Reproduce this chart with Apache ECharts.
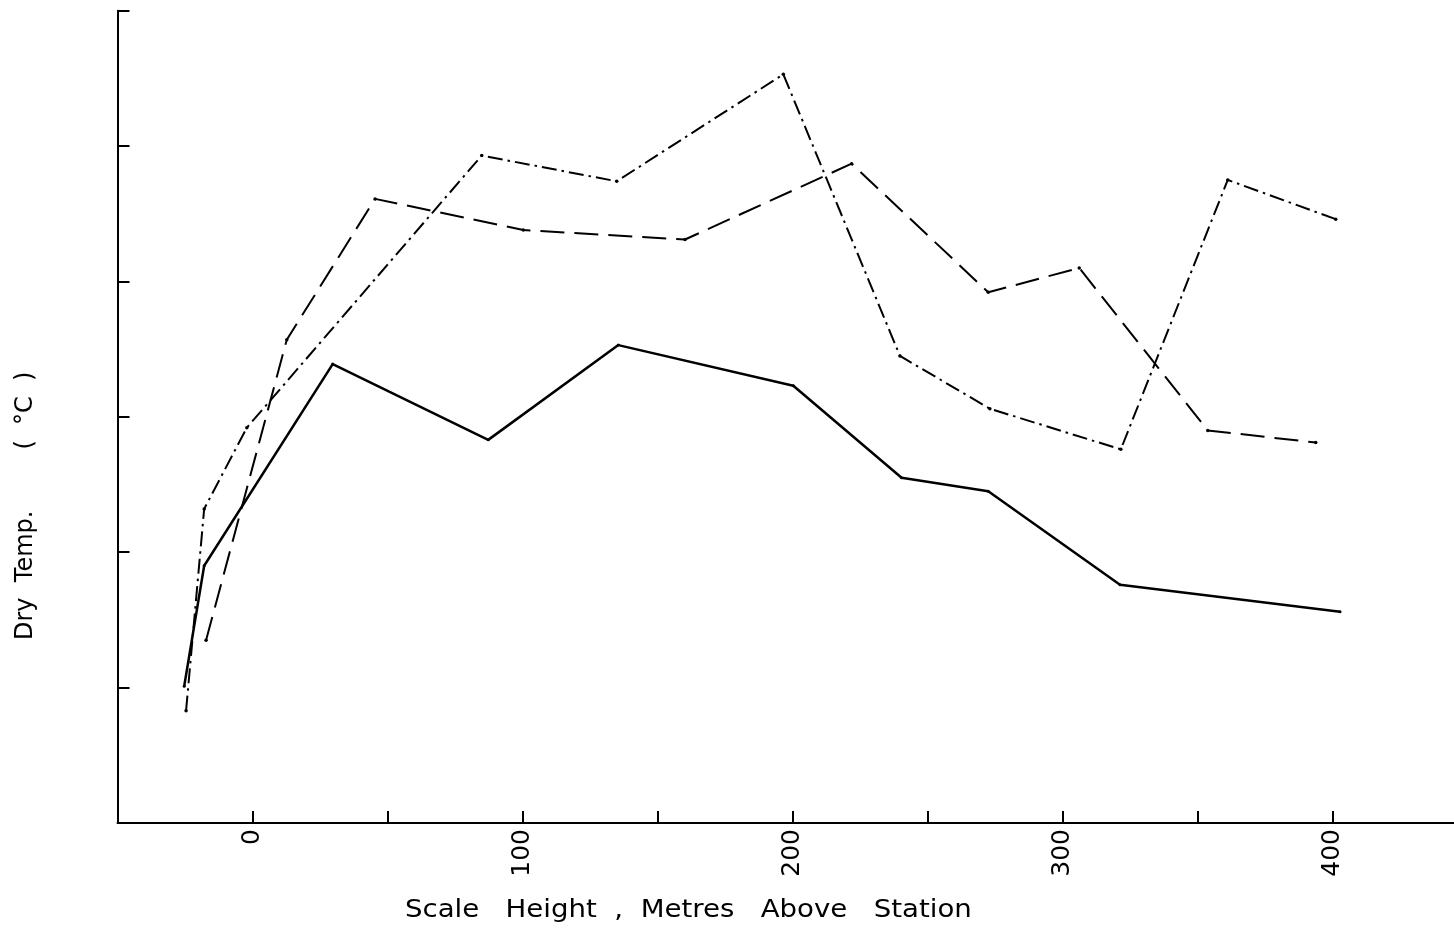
<!DOCTYPE html>
<html>
<head>
<meta charset="utf-8">
<script src="https://cdn.jsdelivr.net/npm/echarts@6/dist/echarts.min.js"></script>
<style>
html,body{margin:0;padding:0;background:#fff;}
#chart{width:1454px;height:931px;}
</style>
</head>
<body>
<div id="chart"></div>
<script>
// Scale height (m above station) and dry temperature (axis units, unlabelled)
const solidX = [-25.3, -17.9, 29.7, 87.3, 135.5, 200.3, 240.4, 272.5, 321.3, 402.8];
const solidY = [1.01, 1.90, 3.39, 2.83, 3.53, 3.23, 2.55, 2.45, 1.76, 1.56];

const dashedX = [-17.2, 12.7, 45.4, 100.3, 160.2, 221.9, 272.5, 306.2, 353.8, 393.8];
const dashedY = [1.35, 3.57, 4.61, 4.38, 4.31, 4.87, 3.92, 4.10, 2.90, 2.81];

const dashDotX = [-24.6, -17.9, -2.1, 84.9, 134.9, 196.6, 239.8, 273.1, 321.6, 361.2, 401.2];
const dashDotY = [0.83, 2.32, 2.92, 4.93, 4.74, 5.53, 3.45, 3.06, 2.76, 4.75, 4.46];

const xTickValues = [-50, 0, 50, 100, 150, 200, 250, 300, 350, 400];
const xTickLabels = [0, 100, 200, 300, 400];
const xTitle = 'Scale   Height  ,  Metres   Above   Station';
const yTitle = 'Dry  Temp.        (  °C  )';

function pairs(xs, ys) { return xs.map((x, i) => [x, ys[i]]); }

const FONT = 'DejaVu Sans';
const chart = echarts.init(document.getElementById('chart'), null, {renderer: 'canvas'});

const option = {
  backgroundColor: '#ffffff',
  animation: false,
  grid: {left: 117.5, top: 10.7, right: 0, height: 812.3, containLabel: false},
  xAxis: {
    type: 'value', min: -50, max: 445,
    axisLine: {show: true, onZero: false, lineStyle: {color: '#000', width: 2}},
    axisTick: {show: true, inside: true, length: 12, customValues: xTickValues,
               lineStyle: {color: '#000', width: 2}},
    splitLine: {show: false},
    axisLabel: {
      show: true, rotate: 90, margin: 6, color: '#000', fontFamily: FONT, fontSize: 25,
      customValues: xTickLabels
    }
  },
  yAxis: {
    type: 'value', min: 0, max: 6, interval: 1,
    axisLine: {show: true, onZero: false, lineStyle: {color: '#000', width: 2}},
    axisTick: {show: true, inside: true, length: 12, lineStyle: {color: '#000', width: 2}},
    splitLine: {show: false},
    axisLabel: {show: false}
  },
  graphic: [
    {type: 'text', x: 405, y: 899, scaleX: 1.15,
     style: {text: xTitle, fill: '#000', font: '24px "' + FONT + '"'}},
    {type: 'text', rotation: Math.PI / 2, x: 14, y: 640,
     style: {text: yTitle, fill: '#000', font: '24px "' + FONT + '"', textVerticalAlign: 'top'}}
  ],
  series: [
    {type: 'line', data: pairs(solidX, solidY), showSymbol: true, symbol: 'circle', symbolSize: 3,
     itemStyle: {color: '#000'}, lineStyle: {color: '#000', width: 2.5, type: 'solid'}},
    {type: 'line', data: pairs(dashedX, dashedY), showSymbol: true, symbol: 'circle', symbolSize: 3.5,
     itemStyle: {color: '#000'}, lineStyle: {color: '#000', width: 2, type: [24, 10]}},
    {type: 'line', data: pairs(dashDotX, dashDotY), showSymbol: true, symbol: 'circle', symbolSize: 3.5,
     itemStyle: {color: '#000'}, lineStyle: {color: '#000', width: 2, type: [15, 5, 2.5, 5]}}
  ]
};
chart.setOption(option);
</script>
</body>
</html>
